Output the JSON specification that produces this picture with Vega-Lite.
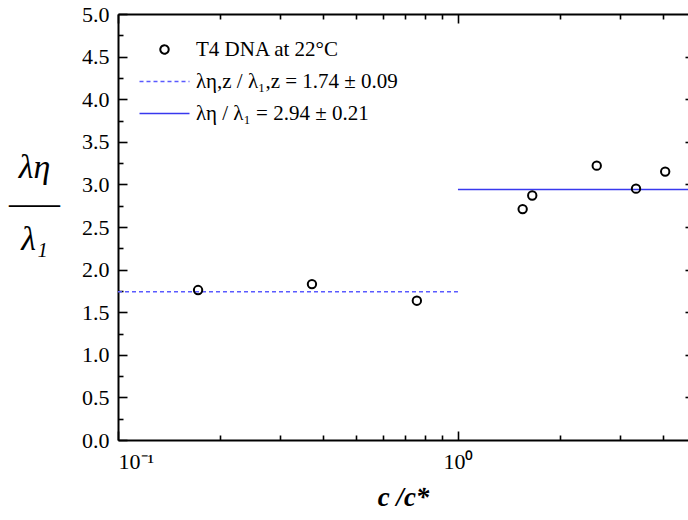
{
  "$schema": "https://vega.github.io/schema/vega-lite/v6.json",
  "width": 570,
  "height": 426,
  "autosize": {"type": "none"},
  "padding": {"left": 118, "top": 14, "right": 0, "bottom": 80},
  "background": "white",
  "config": {
    "view": {"stroke": null},
    "font": "Liberation Serif, Times New Roman, serif",
    "style": {
      "guide-label": {"font": "Liberation Serif, Times New Roman, serif"},
      "guide-title": {"font": "Liberation Serif, Times New Roman, serif"}
    },
    "axis": {
      "grid": false,
      "domainColor": "black",
      "domainWidth": 2,
      "tickColor": "black",
      "tickWidth": 1.6,
      "labelColor": "black",
      "labelFont": "Liberation Serif, Times New Roman, serif",
      "titleFont": "Liberation Serif, Times New Roman, serif",
      "labelFontSize": 22,
      "titleColor": "black"
    }
  },
  "datasets": {
    "pts": [
      {"c": 0.172, "r": 1.76, "series": "T4 DNA at 22°C"},
      {"c": 0.372, "r": 1.83, "series": "T4 DNA at 22°C"},
      {"c": 0.757, "r": 1.635, "series": "T4 DNA at 22°C"},
      {"c": 1.55, "r": 2.71, "series": "T4 DNA at 22°C"},
      {"c": 1.654, "r": 2.87, "series": "T4 DNA at 22°C"},
      {"c": 2.56, "r": 3.22, "series": "T4 DNA at 22°C"},
      {"c": 3.34, "r": 2.95, "series": "T4 DNA at 22°C"},
      {"c": 4.07, "r": 3.15, "series": "T4 DNA at 22°C"}
    ],
    "lines": [
      {"c": 0.1, "r": 1.74, "series": "λη,z / λ₁,z = 1.74 ± 0.09"},
      {"c": 1.0, "r": 1.74, "series": "λη,z / λ₁,z = 1.74 ± 0.09"},
      {"c": 1.0, "r": 2.94, "series": "λη / λ₁ = 2.94 ± 0.21"},
      {"c": 5.0, "r": 2.94, "series": "λη / λ₁ = 2.94 ± 0.21"}
    ]
  },
  "resolve": {"axis": {"x": "independent", "y": "independent"}},
  "layer": [
    {
      "data": {"name": "lines"},
      "mark": {"type": "line", "strokeWidth": 1.3, "clip": true},
      "encoding": {
        "x": {
          "field": "c", "type": "quantitative",
          "scale": {"type": "log", "domain": [0.1, 4.75], "nice": false},
          "axis": {
            "orient": "top", "title": null, "labels": false,
            "values": [0.1, 0.2, 0.3, 0.4, 0.5, 0.6, 0.7, 0.8, 0.9, 1, 2, 3, 4],
            "tickSize": {"condition": {"test": "datum.value === 0.1 || datum.value === 1", "value": -9}, "value": -5}
          }
        },
        "y": {
          "field": "r", "type": "quantitative",
          "scale": {"domain": [0, 5], "nice": false, "zero": true},
          "axis": {
            "orient": "right", "title": null, "labels": false, "domain": false,
            "values": [0.5, 1, 1.5, 2, 2.5, 3, 3.5, 4, 4.5],
            "tickSize": -3
          }
        },
        "color": {
          "field": "series", "type": "nominal",
          "scale": {
            "domain": ["T4 DNA at 22°C", "λη,z / λ₁,z = 1.74 ± 0.09", "λη / λ₁ = 2.94 ± 0.21"],
            "range": ["black", "#5a5aff", "#3838ee"]
          },
          "legend": {
            "orient": "none",
            "legendX": 36,
            "legendY": 25,
            "title": null,
            "padding": 0,
            "labelFont": "Liberation Serif, Times New Roman, serif",
            "labelFontSize": 21,
            "labelColor": "black",
            "labelOffset": 21,
            "labelLimit": 400,
            "rowPadding": 10,
            "symbolSize": 2500,
            "encode": {
              "symbols": {
                "update": {
                  "shape": {"signal": "datum.value === 'T4 DNA at 22°C' ? 'circle' : 'stroke'"},
                  "size": {"signal": "datum.value === 'T4 DNA at 22°C' ? 70 : 2500"},
                  "strokeDash": {"signal": "datum.value === 'λη,z / λ₁,z = 1.74 ± 0.09' ? [4, 3] : [1, 0]"},
                  "strokeWidth": {"signal": "datum.value === 'T4 DNA at 22°C' ? 2 : 1.3"},
                  "fill": {"value": "transparent"}
                }
              }
            }
          }
        },
        "strokeDash": {
          "field": "series", "type": "nominal",
          "scale": {
            "domain": ["λη,z / λ₁,z = 1.74 ± 0.09", "λη / λ₁ = 2.94 ± 0.21"],
            "range": [[4, 3], [1, 0]]
          },
          "legend": null
        }
      }
    },
    {
      "data": {"name": "pts"},
      "mark": {"type": "point", "shape": "circle", "filled": false, "size": 70, "strokeWidth": 2, "opacity": 1},
      "encoding": {
        "x": {
          "field": "c", "type": "quantitative",
          "scale": {"type": "log", "domain": [0.1, 4.75], "nice": false},
          "axis": {
            "orient": "bottom",
            "title": "c /c*",
            "titleFontSize": 27,
            "titleFontStyle": "italic",
            "titleFontWeight": "bold",
            "titlePadding": 12,
            "labelPadding": 20,
            "values": [0.1, 0.2, 0.3, 0.4, 0.5, 0.6, 0.7, 0.8, 0.9, 1, 2, 3, 4],
            "labelExpr": "datum.value === 0.1 ? '10⁻¹' : (datum.value === 1 ? '10⁰' : '')",
            "tickSize": {"condition": {"test": "datum.value === 0.1 || datum.value === 1", "value": -9}, "value": -5}
          }
        },
        "y": {
          "field": "r", "type": "quantitative",
          "scale": {"domain": [0, 5], "nice": false, "zero": true},
          "axis": {
            "orient": "left",
            "values": [0, 0.25, 0.5, 0.75, 1, 1.25, 1.5, 1.75, 2, 2.25, 2.5, 2.75, 3, 3.25, 3.5, 3.75, 4, 4.25, 4.5, 4.75, 5],
            "labelExpr": "(datum.value * 2) % 1 === 0 ? format(datum.value, '.1f') : ''",
            "tickSize": {"condition": {"test": "(datum.value * 2) % 1 === 0", "value": -9}, "value": -5},
            "labelPadding": 18,
            "title": ["λη", "–––", "λ₁"],
            "titleFontSize": 34,
            "titleFontStyle": "italic",
            "titleFontWeight": "normal",
            "titleAngle": 0,
            "titleAlign": "center",
            "titleBaseline": "middle",
            "titleLineHeight": 36,
            "titleX": -84,
            "titleY": 153
          }
        },
        "color": {"field": "series", "type": "nominal"}
      }
    }
  ]
}
